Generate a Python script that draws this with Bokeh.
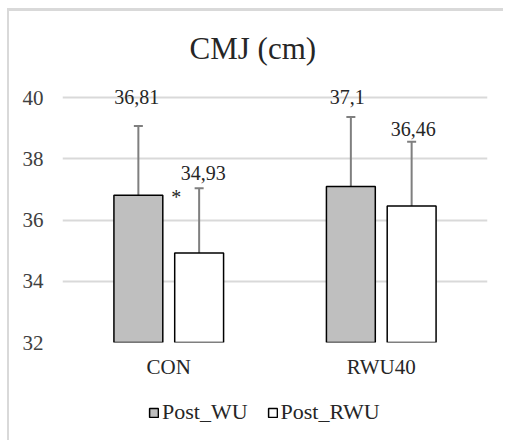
from bokeh.plotting import figure
from bokeh.layouts import column
from bokeh.models import (ColumnDataSource, FactorRange, Range1d, Whisker, TeeHead,
                          Legend, LegendItem, FixedTicker)
from bokeh.transform import dodge
from bokeh.core.properties import value
from bokeh.embed import file_html
from bokeh.resources import INLINE

# ---- data ----
categories = ["CON", "RWU40"]
post_wu = [36.81, 37.10]
post_rwu = [34.93, 36.46]
post_wu_sd = [2.27, 2.27]
post_rwu_sd = [2.11, 2.10]
wu_labels = ["36,81", "37,1"]
rwu_labels = ["34,93", "36,46"]
series_names = ["Post_WU", "Post_RWU"]
y_ticks = [32, 34, 36, 38, 40]

FONT = "Liberation Serif"
OFF = 0.143
BW = 0.23
WU_FILL, RWU_FILL = "#bfbfbf", "white"
ERR = "#7f7f7f"
TXT = "#262626"
FRAME = "#d9d9d9"

src = ColumnDataSource(dict(
    cat=categories,
    wu=post_wu, rwu=post_rwu,
    wu_hi=[m + s for m, s in zip(post_wu, post_wu_sd)],
    wu_lo=[m - s for m, s in zip(post_wu, post_wu_sd)],
    rwu_hi=[m + s for m, s in zip(post_rwu, post_rwu_sd)],
    rwu_lo=[m - s for m, s in zip(post_rwu, post_rwu_sd)],
    wu_lab=wu_labels, rwu_lab=rwu_labels,
    wu_lab_dy=[-29, -20], rwu_lab_dy=[-15, -13],
    wu_lab_dx=[-1.5, -3.5], rwu_lab_dx=[4, 1.5],
))

p = figure(width=496, height=379, x_range=FactorRange(factors=categories),
           y_range=Range1d(32, 40.5), output_backend="svg", toolbar_location=None,
           min_border_left=53, min_border_right=18, min_border_top=70, min_border_bottom=48)

p.title.text = "CMJ (cm)"
p.title.align = "left"
p.title.offset = 127
p.title.text_font = FONT
p.title.text_font_size = "31px"
p.title.text_font_style = "normal"
p.title.text_color = TXT
p.title.standoff = 34

p.outline_line_color = None
p.xgrid.grid_line_color = None
p.ygrid.grid_line_color = FRAME
p.ygrid.grid_line_width = 2
p.yaxis.ticker = FixedTicker(ticks=y_ticks)

for ax in (p.xaxis[0], p.yaxis[0]):
    ax.axis_line_color = None
    ax.major_tick_line_color = None
    ax.minor_tick_line_color = None
    ax.major_label_text_font = FONT
    ax.major_label_text_font_size = "21px"
p.yaxis.major_label_text_color = "#404040"
p.xaxis.major_label_text_color = TXT
p.yaxis.major_label_standoff = 13
p.xaxis.major_label_standoff = 6

r_wu = p.vbar(x=dodge("cat", -OFF, range=p.x_range), top="wu", bottom=32, width=BW,
              source=src, fill_color=WU_FILL, line_color="black", line_width=1.5)
r_rwu = p.vbar(x=dodge("cat", OFF, range=p.x_range), top="rwu", bottom=32, width=BW,
               source=src, fill_color=RWU_FILL, line_color="black", line_width=1.5)

for col, off in (("wu", -OFF), ("rwu", OFF)):
    w = Whisker(source=src, base=dodge("cat", off, range=p.x_range),
                upper=col + "_hi", lower=col + "_lo", dimension="height",
                line_color=ERR, line_width=2,
                upper_head=TeeHead(size=9, line_color=ERR, line_width=2),
                lower_head=TeeHead(size=9, line_color=ERR, line_width=2))
    p.add_layout(w)

p.text(x=dodge("cat", -OFF, range=p.x_range), y="wu_hi", text="wu_lab", source=src,
       y_offset="wu_lab_dy", x_offset="wu_lab_dx",
       text_font=value(FONT), text_font_size="20px", text_color=TXT,
       text_align="center", text_baseline="middle")
p.text(x=dodge("cat", OFF, range=p.x_range), y="rwu_hi", text="rwu_lab", source=src,
       y_offset="rwu_lab_dy", x_offset="rwu_lab_dx",
       text_font=value(FONT), text_font_size="20px", text_color=TXT,
       text_align="center", text_baseline="middle")

# significance marker
star_src = ColumnDataSource(dict(cat=[categories[0]], y=[post_wu[0]], t=["*"]))
p.text(x=dodge("cat", OFF, range=p.x_range), y="y", text="t", source=star_src,
       x_offset=-23, y_offset=2, text_font=value(FONT), text_font_size="20px",
       text_color=TXT, text_align="center", text_baseline="middle")

# legend strip below the chart (swatch renderers carry no drawable data)
leg = figure(width=496, height=53, x_range=Range1d(0, 1), y_range=Range1d(0, 1),
             output_backend="svg", toolbar_location=None,
             x_axis_location=None, y_axis_location=None, min_border=0)
leg.grid.visible = False
leg.outline_line_color = None
swatch = ColumnDataSource(dict(x=[float("nan")], top=[float("nan")]))
l_wu = leg.vbar(x="x", top="top", width=0.1, source=swatch,
                fill_color=WU_FILL, line_color="black", line_width=1.5)
l_rwu = leg.vbar(x="x", top="top", width=0.1, source=swatch,
                 fill_color=RWU_FILL, line_color="black", line_width=1.5)
legend = Legend(items=[LegendItem(label=series_names[0], renderers=[l_wu]),
                       LegendItem(label=series_names[1], renderers=[l_rwu])],
                orientation="horizontal", location=(86, 18),
                glyph_width=11, glyph_height=11, label_standoff=3, spacing=19,
                label_text_font=FONT, label_text_font_size="22px",
                label_text_color=TXT, border_line_color=None,
                background_fill_alpha=0, padding=0, margin=0)
leg.add_layout(legend, "center")

layout = column(p, leg, spacing=0, margin=(11, 0, 0, 9),
                styles={"box-shadow": f"-2px -3px 0 0 {FRAME}"})

open("out.html", "w").write(file_html(layout, INLINE))
